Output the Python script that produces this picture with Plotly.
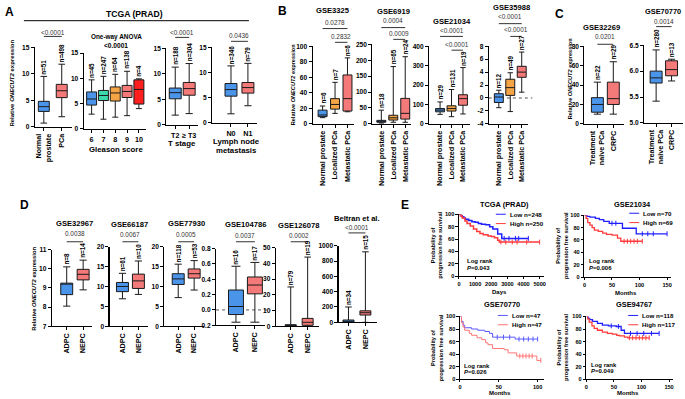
import numpy as np
import plotly.graph_objects as go

W, H = 685, 399
FONT = "Liberation Sans, Arial, Helvetica, sans-serif"

BLUE = "#4a95ea"
SALMON = "#f47a7a"
ORANGE = "#f5a445"
TEAL = "#3bd9ab"
RED = "#ff1f1f"

# ================= DATA =================
# ---- Panel A : TCGA (PRAD) ----
A1_labels = ["Normal<br>prostate", "PCa"]
A1_q1 = [2.9, 5.5]
A1_med = [3.8, 6.8]
A1_q3 = [4.8, 8.0]
A1_lo = [0.7, 1.9]
A1_hi = [9.5, 11.8]
A1_n = ["51", "498"]

A2_labels = ["6", "7", "8", "9", "10"]
A2_q1 = [4.7, 5.6, 5.5, 6.2, 4.9]
A2_med = [5.9, 6.6, 7.1, 7.4, 7.8]
A2_q3 = [7.3, 7.6, 8.3, 8.6, 9.7]
A2_lo = [2.9, 1.9, 2.3, 2.6, 4.0]
A2_hi = [9.7, 10.4, 10.8, 11.4, 9.9]
A2_n = ["45", "247", "64", "138", "4"]

A3_labels = ["T2", "≥ T3"]
A3_q1 = [5.1, 5.8]
A3_med = [6.3, 7.1]
A3_q3 = [7.2, 8.3]
A3_lo = [1.9, 2.2]
A3_hi = [11.3, 12.0]
A3_n = ["188", "304"]

A4_labels = ["N0", "N1"]
A4_q1 = [5.3, 5.9]
A4_med = [6.6, 7.0]
A4_q3 = [7.8, 8.0]
A4_lo = [1.8, 3.4]
A4_hi = [11.3, 11.8]
A4_n = ["346", "79"]

# ---- Panel B ----
B_labels = ["Normal prostate", "Localized PCa", "Metastatic PCa"]
B1_q1 = [9.3, 19.0, 16.5]
B1_med = [11.4, 25.0, 32.5]
B1_q3 = [17.7, 32.5, 63.0]
B1_lo = [8.0, 13.5, 15.6]
B1_hi = [23.0, 53.5, 85.0]
B1_n = ["6", "7", "6"]

B2_q1 = [5.0, 12.0, 15.0]
B2_med = [7.0, 19.0, 33.0]
B2_q3 = [11.0, 27.0, 80.0]
B2_lo = [2.0, 5.0, 5.0]
B2_hi = [43.0, 180.0, 211.0]
B2_n = ["18", "65", "24"]

B3_q1 = [62.0, 66.0, 96.0]
B3_med = [71.0, 79.0, 130.0]
B3_q3 = [79.0, 93.0, 150.0]
B3_lo = [49.0, 37.0, 51.0]
B3_hi = [113.0, 177.0, 290.0]
B3_n = ["29", "131", "19"]

B4_q1 = [-0.7, 0.4, 3.2]
B4_med = [0.15, 1.6, 4.0]
B4_q3 = [0.66, 2.9, 4.9]
B4_lo = [-1.5, -2.1, 0.9]
B4_hi = [1.2, 3.9, 7.1]
B4_n = ["12", "49", "27"]

# ---- Panel C ----
C_labels = ["Treatment<br>naive PCa", "CRPC"]
C1_q1 = [12.0, 20.0]
C1_med = [20.0, 26.0]
C1_q3 = [27.0, 43.0]
C1_lo = [10.0, 10.0]
C1_hi = [43.0, 64.0]
C1_n = ["22", "29"]

C2_q1 = [5.77, 5.91]
C2_med = [5.87, 6.03]
C2_q3 = [6.00, 6.20]
C2_lo = [5.42, 5.81]
C2_hi = [6.41, 6.23]
C2_n = ["280", "13"]

# ---- Panel D ----
D_labels = ["ADPC", "NEPC"]
D1_q1 = [8.65, 9.42]; D1_med = [9.2, 9.71]; D1_q3 = [9.25, 9.97]
D1_lo = [8.05, 8.9]; D1_hi = [10.1, 10.45]; D1_n = ["8", "14"]

D2_q1 = [8.7, 9.5]; D2_med = [10.0, 11.4]; D2_q3 = [11.0, 13.1]
D2_lo = [6.9, 8.0]; D2_hi = [13.3, 16.4]; D2_n = ["61", "10"]

D3_q1 = [10.5, 12.1]; D3_med = [11.9, 13.2]; D3_q3 = [13.2, 14.4]
D3_lo = [7.2, 9.1]; D3_hi = [15.6, 16.5]; D3_n = ["118", "53"]

D4_q1 = [-0.06, 0.21]; D4_med = [0.045, 0.325]; D4_q3 = [0.26, 0.43]
D4_lo = [-0.16, -0.16]; D4_hi = [0.57, 0.62]; D4_n = ["16", "17"]

D5_q1 = [0.0, 0.6]; D5_med = [0.3, 2.5]; D5_q3 = [1.0, 5.0]
D5_lo = [0.0, 0.0]; D5_hi = [25.0, 44.0]; D5_n = ["79", "19"]

D6_q1 = [0.0, 95.0]; D6_med = [10.0, 125.0]; D6_q3 = [30.0, 150.0]
D6_lo = [0.0, 0.0]; D6_hi = [200.0, 920.0]; D6_n = ["34", "15"]

# ---- Panel E : Kaplan-Meier (time, % surviving) ----
E1_low_t = [0, 100, 200, 300, 400, 600, 800, 1000, 1200, 1400, 1650, 1900, 2100, 2400, 2650, 4300]
E1_low_s = [100, 98, 96, 94, 92, 90, 88, 87, 85, 84, 83, 80, 76, 68, 61, 61]
E1_low_c = [2800, 3100, 3500, 3700, 4300]
E1_high_t = [0, 100, 200, 370, 500, 700, 900, 1100, 1300, 1500, 1800, 2000, 2200, 2400, 2500, 5000]
E1_high_s = [100, 97, 94, 89, 85, 81, 76, 72, 69, 67, 65, 64, 62, 58, 55, 55]
E1_high_c = [2600, 2900, 3300, 3600, 4200, 5000]

E2_low_t = [0, 5, 10, 20, 27, 35, 45, 63, 69, 90, 94, 150]
E2_low_s = [100, 98, 97, 95, 93, 90, 87, 87, 79, 79, 70, 70]
E2_low_c = [50, 57, 105, 115, 125, 150]
E2_high_t = [0, 3, 6, 10, 14, 18, 25, 33, 40, 50, 60, 66, 105]
E2_high_s = [100, 95, 88, 84, 80, 76, 74, 71, 69, 68, 63, 58, 58]
E2_high_c = [72, 78, 84, 90, 96, 105]

E3_low_t = [0, 2, 4, 6, 15, 23, 32, 38, 42, 70, 71, 100]
E3_low_s = [100, 92, 86, 82, 80, 78, 76, 73, 67, 67, 64, 64]
E3_low_c = [48, 56, 64, 76, 82, 88, 94, 100]
E3_high_t = [0, 2, 4, 6, 12, 15, 22, 28, 33, 36, 42, 57, 62, 73, 99, 104]
E3_high_s = [100, 90, 83, 78, 73, 70, 66, 63, 58, 55, 49, 47, 42, 37, 30, 30]
E3_high_c = [77, 81, 85, 89, 93, 104]

E4_low_t = [0, 3, 6, 11, 20, 29, 40, 54, 63, 69, 132]
E4_low_s = [100, 97, 95, 92, 89, 86, 85, 84, 78, 73, 73]
E4_low_c = [45, 58, 80, 92, 104, 118, 132]
E4_high_t = [0, 2, 5, 10, 14, 20, 29, 38, 47, 55, 60, 69, 75, 114]
E4_high_s = [100, 96, 91, 85, 81, 78, 75, 73, 72, 70, 69, 67, 66, 66]
E4_high_c = [78, 84, 90, 96, 102, 108, 114]

# ================= BUILD =================
fig = go.Figure()
layout = {}
annotations = []
shapes = []
counter = [0]


def xp(px):
    return px / W


def yp(py):
    return 1 - py / H


def T(x, y, text, size=7, bold=True, angle=0, xa="center", ya="middle", color="black"):
    t = text
    if bold:
        t = "<b>" + t + "</b>"
    annotations.append(dict(x=xp(x), y=yp(y), xref="paper", yref="paper", text=t, showarrow=False,
                            font=dict(size=size, family=FONT, color=color), textangle=angle,
                            xanchor=xa, yanchor=ya, borderpad=0))


def L(x0, y0, x1, y1, color="black", width=1.0):
    shapes.append(dict(type="line", xref="paper", yref="paper", x0=xp(x0), y0=yp(y0), x1=xp(x1),
                       y1=yp(y1), line=dict(color=color, width=width)))


def new_axes():
    counter[0] += 1
    k = counter[0]
    s = "" if k == 1 else str(k)
    return "xaxis" + s, "yaxis" + s, "x" + s, "y" + s


def fmt(v, dec):
    return ("{:." + str(dec) + "f}").format(v)


def box_panel(labels, q1, med, q3, lo, hi, ns, colors, ax_px, cat_px, yticks, ydec, ytop_px, ybot_px,
              box_px, tickangle=-90, cat_size=7.2, dotted_zero=False):
    xa, ya, xr, yr = new_axes()
    n = len(labels)
    ppu = (cat_px[-1] - cat_px[0]) / (n - 1)
    r0 = -(cat_px[0] - ax_px[0]) / ppu
    r1 = (n - 1) + (ax_px[1] - cat_px[-1]) / ppu
    if dotted_zero:
        shapes.append(dict(type="line", xref=xr + " domain", yref=yr, x0=0, x1=1.12, y0=0, y1=0,
                           line=dict(color="#555", width=1, dash="dot"), layer="below"))
    for i in range(n):
        fig.add_trace(go.Box(x=[i], q1=[q1[i]], median=[med[i]], q3=[q3[i]], lowerfence=[lo[i]],
                             upperfence=[hi[i]], fillcolor=colors[i], line=dict(color="#1a1a1a", width=1),
                             width=box_px / ppu, whiskerwidth=0.6, boxpoints=False, xaxis=xr, yaxis=yr,
                             showlegend=False, hoverinfo="skip"))
        annotations.append(dict(x=i, y=hi[i], xref=xr, yref=yr, text="<b>n=" + ns[i] + "</b>",
                                textangle=-90, showarrow=False, xanchor="center", yanchor="bottom",
                                yshift=1, borderpad=0, font=dict(size=6.3, family=FONT, color="black")))
    layout[xa] = dict(domain=[xp(ax_px[0]), xp(ax_px[1])], range=[r0, r1], anchor=yr,
                      tickvals=list(range(n)), ticktext=["<b>" + c + "</b>" for c in labels],
                      tickangle=tickangle, showline=True, linecolor="black", linewidth=1.1,
                      ticks="outside", ticklen=3, tickwidth=1, tickcolor="black", showgrid=False,
                      zeroline=False, tickfont=dict(size=cat_size, family=FONT, color="black"), fixedrange=True)
    layout[ya] = dict(domain=[yp(ybot_px), yp(ytop_px)], range=[yticks[0], yticks[-1]], anchor=xr,
                      tickvals=yticks, ticktext=["<b>" + fmt(v, ydec) + "</b>" for v in yticks],
                      showline=True, linecolor="black", linewidth=1.1, ticks="outside", ticklen=3,
                      tickwidth=1, tickcolor="black", showgrid=False, zeroline=False,
                      tickfont=dict(size=6.6, family=FONT, color="black"), fixedrange=True)
    return xr, yr


def bracket(xr, i0, i1, line_py, text, text_py, size=6.4):
    shapes.append(dict(type="line", xref=xr, yref="paper", x0=i0, x1=i1, y0=yp(line_py), y1=yp(line_py),
                       line=dict(color="#333", width=1)))
    annotations.append(dict(x=(i0 + i1) / 2, y=yp(text_py), xref=xr, yref="paper", text=text,
                            showarrow=False, xanchor="center", yanchor="middle", borderpad=0,
                            font=dict(size=size, family=FONT, color="#333")))


# ---------- Panel A ----------
T(8, 8, "A", size=12)
T(133, 10, "TCGA (PRAD)", size=8.6)
L(22, 17, 248, 17, width=1)
T(10, 80, "Relative <i>ONECUT2</i> expression", size=6, angle=-90)

xr, yr = box_panel(A1_labels, A1_q1, A1_med, A1_q3, A1_lo, A1_hi, A1_n, [BLUE, SALMON],
                   [33, 70], [42, 60], [0, 5, 10, 15], 0, 44, 125, 11, cat_size=7.2)
bracket(xr, 0, 1, 33, "<0.0001", 29)

xr, yr = box_panel(A2_labels, A2_q1, A2_med, A2_q3, A2_lo, A2_hi, A2_n, [BLUE, TEAL, ORANGE, SALMON, RED],
                   [82, 145], [90, 102, 115, 126, 137.5], [0, 5, 10, 15], 0, 50, 127, 10, tickangle=0,
                   cat_size=7.2)
T(115, 34, "One-way ANOVA", size=6.4)
T(115, 42, "<0.0001", size=6.6)
T(115, 148, "Gleason score", size=7.8)

xr, yr = box_panel(A3_labels, A3_q1, A3_med, A3_q3, A3_lo, A3_hi, A3_n, [BLUE, SALMON],
                   [165, 197], [174, 188], [0, 5, 10, 15], 0, 45, 123, 12, tickangle=0, cat_size=7.2)
bracket(xr, 0, 1, 34, "<0.0001", 29)
T(181, 142, "T stage", size=7.8)

xr, yr = box_panel(A4_labels, A4_q1, A4_med, A4_q3, A4_lo, A4_hi, A4_n, [BLUE, SALMON],
                   [211, 256], [230, 247], [0, 5, 10, 15], 0, 44, 121, 12, tickangle=0, cat_size=7.2)
bracket(xr, 0, 1, 38, "0.0436", 32)
T(236, 140, "Lymph node", size=7.8)
T(236, 149, "metastasis", size=7.8)

# ---------- Panel B ----------
T(282, 7, "B", size=12)
T(292, 82, "Relative <i>ONECUT2</i> expression", size=5.6, angle=-90)
B_cols = [BLUE, ORANGE, SALMON]

xr, yr = box_panel(B_labels, B1_q1, B1_med, B1_q3, B1_lo, B1_hi, B1_n, B_cols,
                   [312, 354], [322, 335, 347], [0, 20, 40, 60, 80, 100], 0, 43, 122, 9)
T(332, 7, "GSE3325", size=7.6)
bracket(xr, 0, 2, 25, "0.0278", 19)
bracket(xr, 1, 2, 39, "0.2832", 33)

xr, yr = box_panel(B_labels, B2_q1, B2_med, B2_q3, B2_lo, B2_hi, B2_n, B_cols,
                   [372, 411], [381, 393, 405], [0, 50, 100, 150, 200, 250], 0, 41, 122, 9)
T(393, 8, "GSE6919", size=7.6)
bracket(xr, 0, 2, 24, "0.0004", 17)
bracket(xr, 1, 2, 36, "0.0009", 30)

xr, yr = box_panel(B_labels, B3_q1, B3_med, B3_q3, B3_lo, B3_hi, B3_n, B_cols,
                   [429, 470], [440, 452, 463], [0, 100, 200, 300, 400], 0, 43, 122, 9)
T(452, 18, "GSE21034", size=7.6)
bracket(xr, 0, 2, 33, "<0.0001", 27)
bracket(xr, 1, 2, 47, "<0.0001", 41)

xr, yr = box_panel(B_labels, B4_q1, B4_med, B4_q3, B4_lo, B4_hi, B4_n, B_cols,
                   [489, 528], [499, 511, 522], [-4, -2, 0, 2, 4, 6, 8], 0, 43, 122, 9, dotted_zero=True)
T(512, 4, "GSE35988", size=7.6)
bracket(xr, 0, 2, 20, "<0.0001", 13)
bracket(xr, 1, 2, 33, "<0.0001", 26)

# ---------- Panel C ----------
T(560, 10, "C", size=12)
T(570, 76, "Relative <i>ONECUT2</i> expression", size=5.6, angle=-90)
xr, yr = box_panel(C_labels, C1_q1, C1_med, C1_q3, C1_lo, C1_hi, C1_n, [BLUE, SALMON],
                   [585, 625], [598, 614], [0, 20, 40, 60, 80], 0, 43, 122, 12)
T(602, 24, "GSE32269", size=7.6)
bracket(xr, 0, 1, 41, "0.0201", 33)

xr, yr = box_panel(C_labels, C2_q1, C2_med, C2_q3, C2_lo, C2_hi, C2_n, [BLUE, SALMON],
                   [645, 684], [657, 672.5], [5.0, 5.5, 6.0, 6.5], 1, 42, 121, 12)
T(683, 8, "GSE70770", size=7.4, xa="right")
bracket(xr, 0, 1, 23, "0.0014", 18)

# ---------- Panel D ----------
T(23, 205, "D", size=12)
T(32, 290, "Relative <i>ONECUT2</i> expression", size=5.8, angle=-90)
D_cols = [BLUE, SALMON]

xr, yr = box_panel(D_labels, D1_q1, D1_med, D1_q3, D1_lo, D1_hi, D1_n, D_cols,
                   [50, 90], [65, 81.5], [7, 8, 9, 10, 11], 0, 250, 328, 12)
T(73, 223, "GSE32967", size=7.6)
bracket(xr, 0, 1, 242, "0.0038", 234)

xr, yr = box_panel(D_labels, D2_q1, D2_med, D2_q3, D2_lo, D2_hi, D2_n, D_cols,
                   [108, 147], [121, 137], [0, 5, 10, 15, 20], 0, 247, 328, 12)
T(128, 224, "GSE66187", size=7.6)
bracket(xr, 0, 1, 242, "0.0067", 235)

xr, yr = box_panel(D_labels, D3_q1, D3_med, D3_q3, D3_lo, D3_hi, D3_n, D_cols,
                   [163, 203], [177, 193], [0, 5, 10, 15, 20], 0, 247, 328, 12)
T(185, 223, "GSE77930", size=7.6)
bracket(xr, 0, 1, 242, "0.0005", 235)

xr, yr = box_panel(D_labels, D4_q1, D4_med, D4_q3, D4_lo, D4_hi, D4_n, D_cols,
                   [215, 264], [235, 254], [-0.2, 0.0, 0.2, 0.4, 0.6, 0.8], 1, 249, 327, 15,
                   dotted_zero=True)
T(245, 224, "GSE104786", size=7.6)
bracket(xr, 0, 1, 242, "0.0037", 236)

xr, yr = box_panel(D_labels, D5_q1, D5_med, D5_q3, D5_lo, D5_hi, D5_n, D_cols,
                   [275, 318], [290, 307], [0, 10, 20, 30, 40, 50], 0, 248, 328, 11)
T(298, 225, "GSE126078", size=7.6)
bracket(xr, 0, 1, 242, "0.0002", 236)

xr, yr = box_panel(D_labels, D6_q1, D6_med, D6_q3, D6_lo, D6_hi, D6_n, D_cols,
                   [338, 377], [348, 365], [0, 200, 400, 600, 800, 1000], 0, 246, 324, 11)
T(357, 218, "Beltran et al.", size=7.6)
bracket(xr, 0, 1, 233, "<0.0001", 227)

# ---------- Panel E ----------
T(405, 205, "E", size=12)
KM_BLUE = "#1f1fff"
KM_RED = "#ff3b3b"


def step_at(t, s, c):
    idx = np.searchsorted(np.array(t), np.array(c), side="right") - 1
    return list(np.array(s)[idx])


def km_panel(curves, x_px0, ppu_x, xmax, ytop_px, ybot_px, xticks, xtitle, xt_dy, title, title_xy,
             leg_x, leg_y, leg_texts, lr_xy, pval, ytitle_x):
    xa, ya, xr, yr = new_axes()
    for (t, s, c, col, wd) in curves:
        fig.add_trace(go.Scatter(x=t, y=s, mode="lines", line=dict(shape="hv", color=col, width=wd),
                                 xaxis=xr, yaxis=yr, showlegend=False, hoverinfo="skip", cliponaxis=False))
        fig.add_trace(go.Scatter(x=c, y=step_at(t, s, c), mode="markers",
                                 marker=dict(symbol="line-ns", size=3.5, line=dict(width=1, color=col)),
                                 xaxis=xr, yaxis=yr, showlegend=False, hoverinfo="skip", cliponaxis=False))
    layout[xa] = dict(domain=[xp(x_px0), xp(x_px0 + xmax * ppu_x)], range=[0, xmax], anchor=yr,
                      tickvals=xticks, ticktext=["<b>" + str(v) + "</b>" for v in xticks],
                      showline=True, linecolor="black", linewidth=1.1, ticks="outside", ticklen=2,
                      tickwidth=1, tickcolor="black", showgrid=False, zeroline=False,
                      tickfont=dict(size=5.6, family=FONT, color="black"), fixedrange=True)
    yt = [0, 20, 40, 60, 80, 100]
    layout[ya] = dict(domain=[yp(ybot_px), yp(ytop_px)], range=[0, 100], anchor=xr,
                      tickvals=yt, ticktext=["<b>" + str(v) + "</b>" for v in yt],
                      showline=True, linecolor="black", linewidth=1.1, ticks="outside", ticklen=2.5,
                      tickwidth=1, tickcolor="black", showgrid=False, zeroline=False,
                      tickfont=dict(size=5.6, family=FONT, color="black"), fixedrange=True)
    T(title_xy[0], title_xy[1], title, size=7.4)
    xt_center = x_px0 + xmax * ppu_x / 2
    T(xt_center - 2, ybot_px + xt_dy, xtitle, size=6.0)
    cols = [curves[0][3], curves[1][3]]
    for j in range(2):
        yy = leg_y + j * 9.5
        L(leg_x, yy, leg_x + 10, yy, color=cols[j], width=1)
        T(leg_x + 13, yy, leg_texts[j], size=6.2, xa="left")
    T(lr_xy[0], lr_xy[1], "Log rank", size=6.0, xa="left")
    T(lr_xy[0], lr_xy[1] + 7, "<i>P</i>=" + pval, size=6.0, xa="left")
    ymid = (ytop_px + ybot_px) / 2
    T(ytitle_x, ymid, "Probability of", size=5.6, angle=-90)
    T(ytitle_x + 7.5, ymid, "progression free survival", size=5.6, angle=-90)


km_panel([(E1_low_t, E1_low_s, E1_low_c, KM_BLUE, 1.5), (E1_high_t, E1_high_s, E1_high_c, KM_RED, 1.5)],
         459, 81 / 5000, 5300, 214, 277, [0, 1000, 2000, 3000, 4000, 5000], "Days", 16, "TCGA (PRAD)",
         (505, 204), 496, 214, ["Low n=248", "High n=250"], (466, 262), "0.043", 433)

km_panel([(E2_low_t, E2_low_s, E2_low_c, KM_BLUE, 1.3), (E2_high_t, E2_high_s, E2_high_c, KM_RED, 1.3)],
         585, 83 / 150, 157, 215, 278, [0, 50, 100, 150], "Months", 16, "GSE21034",
         (633, 204), 630, 213, ["Low n=70", "High n=69"], (589, 262), "0.006", 559)

km_panel([(E3_low_t, E3_low_s, E3_low_c, "#5a5aff", 1.0), (E3_high_t, E3_high_s, E3_high_c, "#ff7575", 1.0)],
         460, 78 / 100, 108, 318, 382, [0, 50, 100], "Months", 14, "GSE70770",
         (502, 306), 498, 317, ["Low n=47", "High n=47"], (463, 368), "0.026", 433)

km_panel([(E4_low_t, E4_low_s, E4_low_c, KM_BLUE, 1.3), (E4_high_t, E4_high_s, E4_high_c, KM_RED, 1.3)],
         587, 83 / 150, 157, 318, 382, [0, 50, 100, 150], "Months", 14, "GSE94767",
         (635, 306), 629, 317, ["Low n=118", "High n=117"], (591, 367), "0.049", 559)

fig.update_layout(width=W, height=H, margin=dict(l=0, r=0, t=0, b=0), paper_bgcolor="white",
                  plot_bgcolor="white", showlegend=False, annotations=annotations, shapes=shapes,
                  font=dict(family=FONT, color="black"), boxmode="overlay", **layout)

fig.write_html("out.html", config={"displayModeBar": False, "staticPlot": True},
               post_script="document.body.style.margin='0';document.body.style.overflow='hidden';")
